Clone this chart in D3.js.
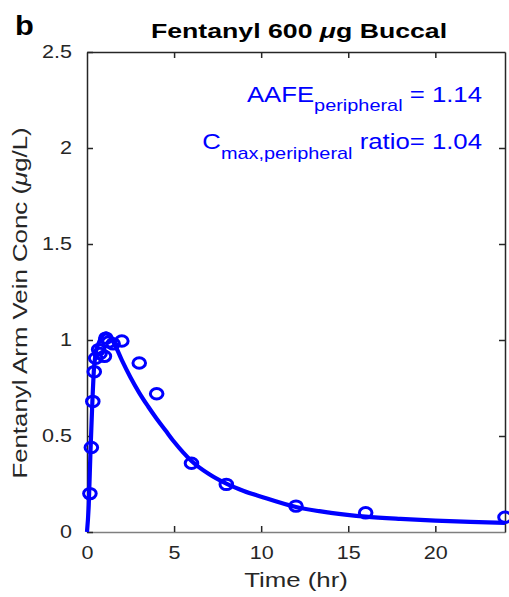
<!DOCTYPE html>
<meta charset="utf-8">
<title>Fentanyl 600 ug Buccal</title>
<style>
    body { margin: 0; background: #fff; }
    svg text { font-family: Arial, "Liberation Sans", Helvetica, sans-serif; }
</style>
<body>
<script src="https://cdn.jsdelivr.net/npm/d3@7"></script>
<script>

    // simulated arm vein concentration (line)
    var simTime = [0, 0.1, 0.2, 0.3, 0.4, 0.5, 0.7, 0.9, 1.1, 1.3, 1.6, 2, 2.5, 3, 3.5, 4, 4.5, 5, 6, 7, 8, 9, 10, 12, 14, 16, 18, 20, 22, 24];
    var simConc = [0, 0.14, 0.42, 0.66, 0.85, 0.93, 0.99, 1.025, 1.035, 1.02, 0.975, 0.895, 0.805, 0.725, 0.655, 0.59, 0.53, 0.47, 0.37, 0.302, 0.252, 0.214, 0.184, 0.13, 0.1, 0.08, 0.068, 0.059, 0.053, 0.048];

    // observed data (circles)
    var obsTime = [0.167, 0.25, 0.333, 0.417, 0.5, 0.667, 0.75, 1, 1.083, 1.25, 1.5, 2, 3, 4, 6, 8, 12, 16, 24];
    var obsConc = [0.20, 0.44, 0.68, 0.835, 0.905, 0.95, 0.93, 0.915, 1.01, 0.99, 0.98, 0.995, 0.88, 0.72, 0.358, 0.248, 0.135, 0.10, 0.077];

    var xTicks = [0, 5, 10, 15, 20];
    var yTicks = [0, 0.5, 1, 1.5, 2, 2.5];

    var width = 509, height = 597;
    var mLeft = 87, mRight = 505, mTop = 52, mBottom = 532;
    var stretch = 1.23; // glyphs in the figure are wider than Arial

    var x = d3.scaleLinear().domain([0, 24]).range([mLeft, mRight]);
    var y = d3.scaleLinear().domain([0, 2.5]).range([mBottom, mTop]);

    var svg = d3.select("body").append("svg")
        .attr("width", width)
        .attr("height", height);

    var axisColor = "#262626";

    // axes with inward ticks on all four sides (box on)
    var bottomAxis = svg.append("g").attr("transform", "translate(0," + mBottom + ")")
        .call(d3.axisBottom(x).tickValues(xTicks).tickSizeInner(-6).tickSizeOuter(0));
    var topAxis = svg.append("g").attr("transform", "translate(0," + mTop + ")")
        .call(d3.axisTop(x).tickValues(xTicks).tickSizeInner(-6).tickSizeOuter(0).tickFormat(""));
    var leftAxis = svg.append("g").attr("transform", "translate(" + mLeft + ",0)")
        .call(d3.axisLeft(y).tickValues(yTicks).tickSizeInner(-6).tickSizeOuter(0).tickFormat(d3.format("")));
    var rightAxis = svg.append("g").attr("transform", "translate(" + mRight + ",0)")
        .call(d3.axisRight(y).tickValues(yTicks).tickSizeInner(-6).tickSizeOuter(0).tickFormat(""));

    [bottomAxis, topAxis, leftAxis, rightAxis].forEach(function (g) {
        g.select(".domain").attr("stroke", axisColor).attr("stroke-width", 1.5);
        g.selectAll(".tick line").attr("stroke", axisColor).attr("stroke-width", 1.5);
        g.selectAll(".tick text").attr("fill", "#262626").style("font-size", "17.5px");
    });
    bottomAxis.select(".domain").attr("stroke", "#7f7f7f");
    bottomAxis.selectAll(".tick text")
        .attr("y", 0).attr("dy", 0)
        .attr("transform", "translate(0,27) scale(" + stretch + ",1)");
    leftAxis.selectAll(".tick text")
        .attr("x", 0)
        .attr("transform", "translate(-15,0) scale(" + stretch + ",1)");
    rightAxis.selectAll(".tick").filter(function (d) { return d === 2.5 || d === 0; }).remove();
    topAxis.selectAll(".tick").filter(function (d) { return d === 0; }).remove();

    // simulated line
    var line = d3.line()
        .x(function (d, i) { return x(simTime[i]); })
        .y(function (d) { return y(d); })
        .curve(d3.curveMonotoneX);

    svg.append("path")
        .datum(simConc)
        .attr("d", line)
        .attr("fill", "none")
        .attr("stroke", "#0000ff")
        .attr("stroke-width", 4.2);

    // observed points
    svg.append("g").selectAll("ellipse")
        .data(obsConc)
        .enter().append("ellipse")
        .attr("cx", function (d, i) { return x(obsTime[i]); })
        .attr("cy", function (d) { return y(d); })
        .attr("rx", 6.3)
        .attr("ry", 5.2)
        .attr("fill", "none")
        .attr("stroke", "#0000ff")
        .attr("stroke-width", 3);

    // labels
    svg.append("text")
        .attr("transform", "translate(296,587) scale(" + stretch + ",1)")
        .attr("text-anchor", "middle")
        .attr("fill", "#262626")
        .style("font-size", "21px")
        .text("Time (hr)");

    var yl = svg.append("text")
        .attr("transform", "translate(27,303) rotate(-90) scale(" + stretch + ",1)")
        .attr("text-anchor", "middle")
        .attr("fill", "#262626")
        .style("font-size", "21px");
    yl.append("tspan").text("Fentanyl Arm Vein Conc (");
    yl.append("tspan").style("font-style", "italic").text("μ");
    yl.append("tspan").text("g/L)");

    var title = svg.append("text")
        .attr("transform", "translate(299,38) scale(1.27,1)")
        .attr("text-anchor", "middle")
        .attr("fill", "#000")
        .style("font-size", "21px")
        .style("font-weight", "bold");
    title.append("tspan").text("Fentanyl 600 ");
    title.append("tspan").style("font-style", "italic").text("μ");
    title.append("tspan").text("g Buccal");

    svg.append("text")
        .attr("transform", "translate(15,35) scale(1.1,1)")
        .style("font-size", "28px")
        .style("font-weight", "bold")
        .text("b");

    // annotations
    var a1 = svg.append("text")
        .attr("transform", "translate(482,102) scale(1.17,1)")
        .attr("text-anchor", "end")
        .attr("fill", "#0000ff")
        .style("font-size", "22px");
    a1.append("tspan").text("AAFE");
    a1.append("tspan").attr("dy", 9).style("font-size", "17px").text("peripheral");
    a1.append("tspan").attr("dy", -9).text(" = 1.14");

    var a2 = svg.append("text")
        .attr("transform", "translate(482,149) scale(1.17,1)")
        .attr("text-anchor", "end")
        .attr("fill", "#0000ff")
        .style("font-size", "22px");
    a2.append("tspan").text("C");
    a2.append("tspan").attr("dy", 10).style("font-size", "17px").text("max,peripheral");
    a2.append("tspan").attr("dy", -10).text(" ratio= 1.04");

</script>
</body>
